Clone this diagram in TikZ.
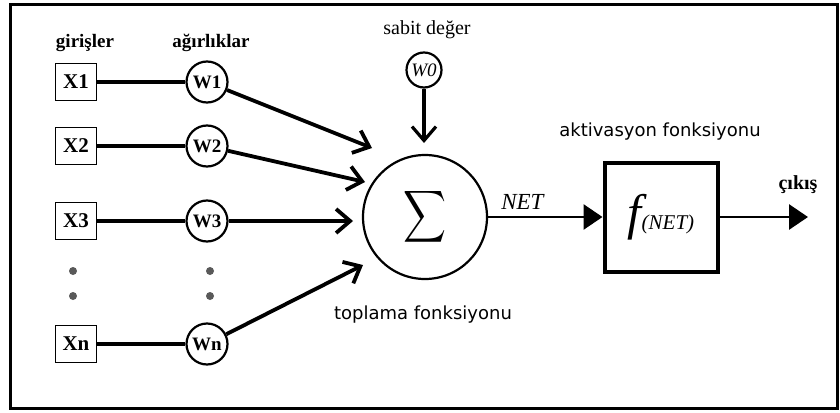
\documentclass[tikz,border=0pt]{standalone}
\usepackage{fontspec}
\usepackage{graphicx}
\setmainfont{Liberation Serif}
\newfontfamily\sansfont{DejaVu Sans}
\usetikzlibrary{arrows.meta}

\tikzset{
  inbox/.style={draw, line width=1.6pt, minimum width=41pt, minimum height=37pt,
    inner sep=0pt, font=\fontsize{21}{22}\selectfont\bfseries},
  weight/.style={draw, circle, line width=2.2pt, minimum size=41pt, inner sep=0pt,
    font=\fontsize{19}{20}\selectfont\bfseries},
  link/.style={line width=4.5pt},
  feed/.style={line width=3.8pt, -{Straight Barb[length=14pt,width=24pt]}},
  flow/.style={line width=2.8pt, -{Triangle[length=19pt,width=25pt]}},
  caption/.style={font=\fontsize{19}{20}\selectfont\bfseries},
  sanscap/.style={font=\sansfont\fontsize{18}{20}\selectfont},
}

\begin{document}
\begin{tikzpicture}[x=1pt, y=-1pt]
  \useasboundingbox (0,0) rectangle (840,412);
  \draw [line width=3pt] (10,5) rectangle (837,408);

  % inputs and weights
  \node [caption] (girisler) at (85,43) {girişler};
  \node [caption] (agirliklar) at (211,43) {ağırlıklar};
  \foreach \i/\y in {1/82, 2/146, 3/221, n/344} {
    \node [inbox] (x\i) at (76,\y) {X\i};
    \node [weight] (w\i) at (207,\y) {W\i};
    \draw [link] (x\i) -- (w\i);
  }
  \foreach \y in {271, 296} {
    \fill [black!65] (73,\y) circle (4pt);
    \fill [black!65] (210,\y) circle (4pt);
  }

  % summation and bias
  \node [draw, circle, line width=2.2pt, minimum size=124pt, inner sep=0pt] (sum)
    at (425,217) {\resizebox*{43pt}{58pt}{$\displaystyle\sum$}};
  \node [sanscap] (toplama) at (423,315) {toplama fonksiyonu};
  \node [weight, font=\fontsize{19}{20}\selectfont\itshape, minimum size=35pt] (w0)
    at (424,70) {W0};
  \node [font=\fontsize{20}{20}\selectfont] (sabit) at (427,30) {sabit değer};
  \coordinate (t0) at (424,143);
  \draw [feed, line width=3.2pt] (w0) -- (t0);

  \coordinate (t1) at (372,148);
  \coordinate (t2) at (365,182);
  \coordinate (t3) at (353,221);
  \coordinate (tn) at (363,265);
  \foreach \i in {1,2,3,n}
    \draw [feed] (w\i) -- (t\i);

  % activation
  \node [draw, line width=4pt, minimum width=113pt, minimum height=109pt] (fnet)
    at (661,217) {\fontsize{50}{50}\selectfont\itshape f\fontsize{21}{21}\selectfont(NET)};
  \node [sanscap] (aktivasyon) at (660,132) {aktivasyon fonksiyonu};
  \draw [flow] (sum) -- (fnet)
    node [pos=0.3, above=3pt, font=\fontsize{23}{23}\selectfont\itshape] {NET};

  \coordinate (out) at (808,217);
  \draw [flow] (fnet) -- (out);
  \node [caption, font=\fontsize{20}{20}\selectfont\bfseries] (cikis) at (798,185) {çıkış};
\end{tikzpicture}
\end{document}
